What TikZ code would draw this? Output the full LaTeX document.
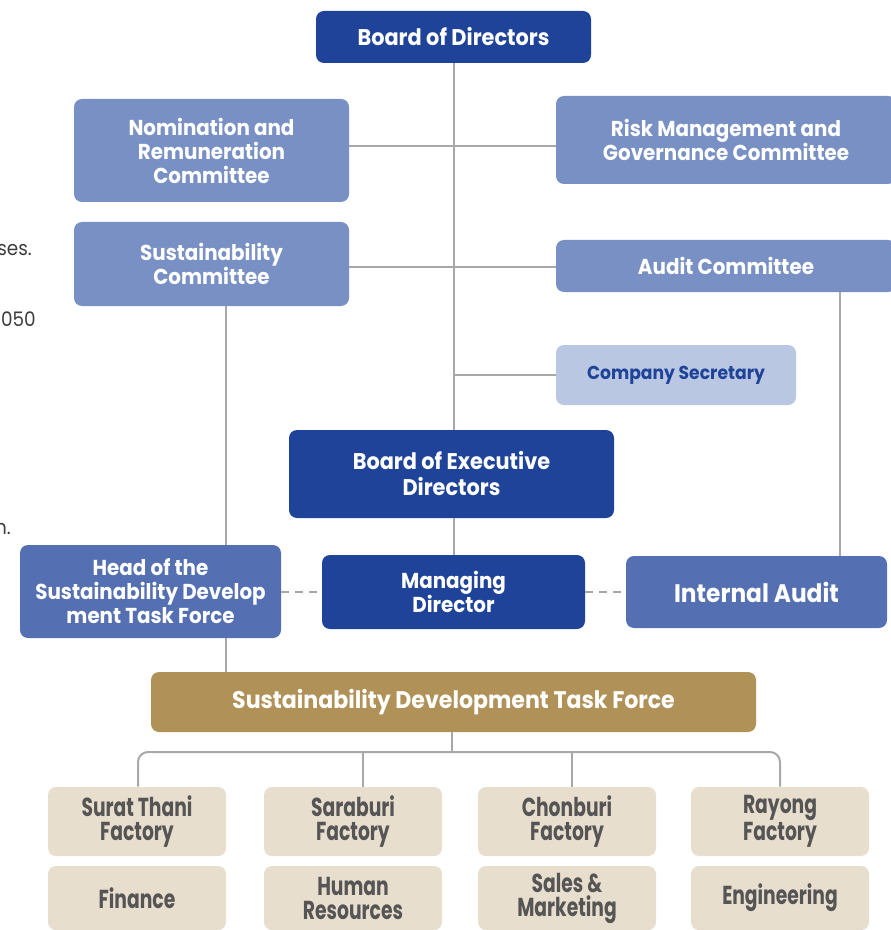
\documentclass[tikz,border=0pt]{standalone}
\usepackage{fontspec}
\setmainfont{Poppins}[FakeStretch=0.92]
\newfontfamily\condfont{Poppins}[FakeStretch=0.72]
\usetikzlibrary{calc}
\definecolor{dblue}{RGB}{31,67,152}
\definecolor{cblue}{RGB}{120,144,195}
\definecolor{mblue}{RGB}{85,112,178}
\definecolor{lblue}{RGB}{185,199,226}
\definecolor{gold}{RGB}{176,146,89}
\definecolor{beige}{RGB}{232,222,206}
\definecolor{btext}{RGB}{85,85,85}
\definecolor{lgray}{RGB}{168,168,168}
\definecolor{ftext}{RGB}{60,60,60}
% \bbox{style}{name}{x1}{y1}{x2}{y2}{text}
\newcommand\bbox[7]{%
  \node[#1, minimum width={(#5-#3)*0.75pt}, minimum height={(#6-#4)*0.75pt}]
    (#2) at ({(#3+#5)/2},{(#4+#6)/2}) {#7};}
\begin{document}
\begin{tikzpicture}[x=0.75pt,y=-0.75pt,
  box/.style={rounded corners=6pt, inner sep=0pt, align=center, text=white,
    font=\bfseries\fontsize{16.2}{18}\selectfont},
  darkbox/.style={box, fill=dblue},
  bigdark/.style={darkbox, font=\bfseries\fontsize{17}{19.5}\selectfont},
  combox/.style={box, fill=cblue},
  midbox/.style={box, fill=mblue},
  secbox/.style={box, fill=lblue, text=dblue, font=\bfseries\fontsize{14}{16}\selectfont},
  goldbox/.style={box, fill=gold, font=\bfseries\fontsize{18}{20}\selectfont},
  unitbox/.style={box, fill=beige, text=btext, font=\condfont\bfseries\fontsize{19.5}{18}\selectfont},
  conn/.style={draw=lgray, line width=1.5pt},
  dashconn/.style={conn, dash pattern=on 6pt off 4.5pt},
  frag/.style={text=ftext, font=\fontsize{15}{18}\selectfont, anchor=base east, inner sep=0pt}
]
\useasboundingbox (0,0) rectangle (890,930);

% fragments of cropped text at the left edge
\node[frag] (f1) at (32,256) {ses.};
\node[frag] (f2) at (36,326) {2050};
\node[frag] (f3) at (11,534) {n.};

% boxes
\bbox{bigdark}{bod}{316}{11}{591}{63}{Board of Directors}
\bbox{combox}{nrc}{74}{99}{349}{202}{Nomination and\\Remuneration\\Committee}
\bbox{combox}{rgc}{556}{96}{896}{184}{Risk Management and\\Governance Committee}
\bbox{combox}{scm}{74}{222}{349}{306}{Sustainability\\Committee}
\bbox{combox}{adc}{556}{240}{896}{292}{Audit Committee}
\bbox{secbox}{sec}{556}{345}{796}{405}{Company Secretary}
\bbox{bigdark}{bed}{289}{430}{614}{518}{Board of Executive\\Directors}
\bbox{darkbox}{mdr}{322}{555}{585}{629}{Managing\\Director}
\bbox{midbox, font=\bfseries\fontsize{19}{22}\selectfont}{iau}{626}{556}{887}{628}{Internal Audit}
\bbox{midbox}{hsd}{20}{545}{281}{638}{Head of the\\Sustainability Develop\\ment Task Force}
\bbox{goldbox}{sdt}{151}{672}{756}{732}{Sustainability Development Task Force}

\bbox{unitbox}{u1}{48}{787}{226}{856}{Surat Thani\\Factory}
\bbox{unitbox}{u2}{264}{787}{442}{856}{Saraburi\\Factory}
\bbox{unitbox}{u3}{478}{787}{656}{856}{Chonburi\\Factory}
\bbox{unitbox}{u4}{691}{787}{869}{856}{Rayong\\Factory}
\bbox{unitbox}{u5}{48}{866}{226}{930}{Finance}
\bbox{unitbox}{u6}{264}{866}{442}{930}{Human\\Resources}
\bbox{unitbox}{u7}{478}{866}{656}{930}{Sales \&\\Marketing}
\bbox{unitbox}{u8}{691}{866}{869}{930}{Engineering}

% helper coordinates
\coordinate (sp) at (454,0);
\coordinate (h1) at (0,146);
\coordinate (h2) at (0,267);
\coordinate (h3) at (0,375);
\coordinate (hd) at (0,592);
\coordinate (bus) at (0,752);
\coordinate (cx) at (226,0);
\coordinate (ax) at (840,0);

% connectors
\draw[conn] (bod.south -| sp) -- (bed.north -| sp);
\draw[conn] (bed.south -| sp) -- (mdr.north -| sp);
\draw[conn] (nrc.east |- h1) -- (rgc.west |- h1);
\draw[conn] (scm.east |- h2) -- (adc.west |- h2);
\draw[conn] (sp |- h3) -- (sec.west |- h3);
\draw[conn] (adc.south -| ax) -- (iau.north -| ax);
\draw[conn] (scm.south -| cx) -- (hsd.north -| cx);
\draw[conn] (hsd.south -| cx) -- (sdt.north -| cx);
\draw[dashconn] (hsd.east |- hd) -- (mdr.west |- hd);
\draw[dashconn] (mdr.east |- hd) -- (iau.west |- hd);
\coordinate (bx) at (452,0);
\draw[conn] (sdt.south -| bx) -- (bx |- bus);
\coordinate (b1) at (138,0);
\coordinate (b2) at (363,0);
\coordinate (b3) at (572,0);
\coordinate (b4) at (780,0);
\draw[conn, rounded corners=7.5pt] (u1.north -| b1) -- (b1 |- bus) -- (b4 |- bus) -- (u4.north -| b4);
\draw[conn] (b2 |- bus) -- (u2.north -| b2);
\draw[conn] (b3 |- bus) -- (u3.north -| b3);
\end{tikzpicture}
\end{document}
